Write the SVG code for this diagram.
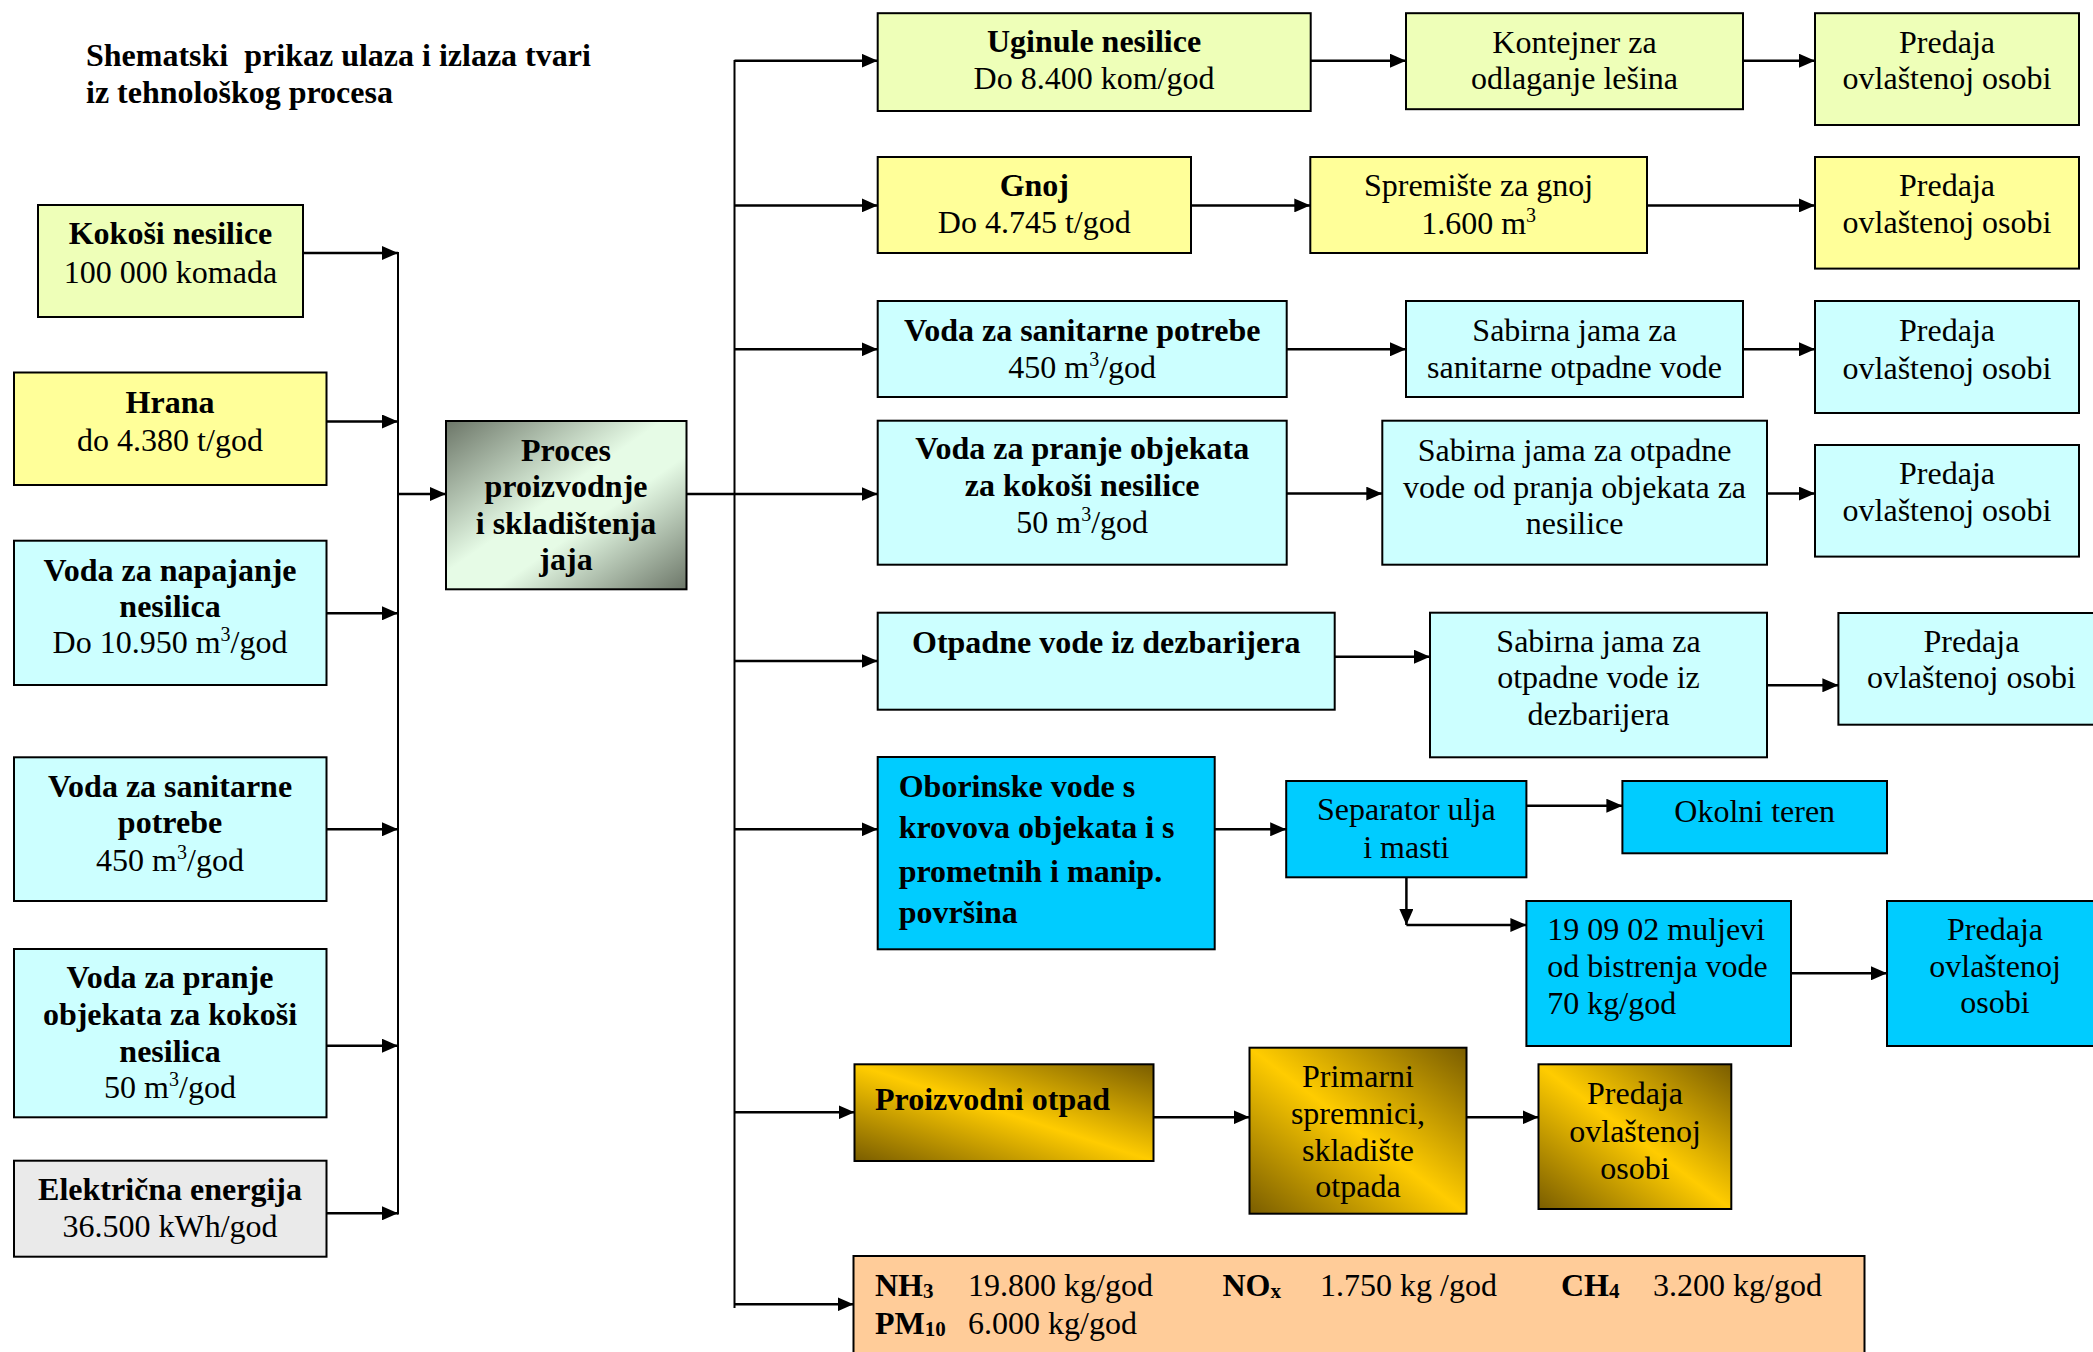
<svg xmlns="http://www.w3.org/2000/svg" width="2093" height="1352" viewBox="0 0 2093 1352">
<style>
text{font-family:"Liberation Serif","Times New Roman",serif;font-size:32px;fill:#000}
.c{text-anchor:middle}
.b{font-weight:bold}
.box{stroke:#000;stroke-width:2}
.ln{stroke:#000;stroke-width:2.5;fill:none}
.bus{stroke:#000;stroke-width:2;fill:none}
.sub{font-size:21px}
.sup{font-size:20px}
</style>
<defs>
<marker id="ah" markerUnits="userSpaceOnUse" markerWidth="16" markerHeight="14" refX="16" refY="7" orient="auto">
<path d="M0,0 L16,7 L0,14 z" fill="#000"/>
</marker>
<linearGradient id="gp" x1="0" y1="0" x2="1" y2="1">
<stop offset="0" stop-color="#6c7668"/>
<stop offset="0.45" stop-color="#e6fbe6"/>
<stop offset="0.6" stop-color="#e6fbe6"/>
<stop offset="1" stop-color="#6c7668"/>
</linearGradient>
<linearGradient id="gg" x1="0" y1="1" x2="1" y2="0">
<stop offset="0" stop-color="#7a5d00"/>
<stop offset="0.5" stop-color="#ffcc00"/>
<stop offset="1" stop-color="#7a5d00"/>
</linearGradient>
</defs>
<rect width="2093" height="1352" fill="#fff"/>

<g id="title">
<text class="b" x="86" y="66">Shematski&#160; prikaz ulaza i izlaza tvari</text>
<text class="b" x="86" y="103">iz tehnološkog procesa</text>
</g>

<g id="connectors">
<line class="ln" x1="303" y1="253" x2="398" y2="253" marker-end="url(#ah)"/>
<line class="ln" x1="326" y1="421.5" x2="398" y2="421.5" marker-end="url(#ah)"/>
<line class="ln" x1="326" y1="613.3" x2="398" y2="613.3" marker-end="url(#ah)"/>
<line class="ln" x1="326" y1="829.3" x2="398" y2="829.3" marker-end="url(#ah)"/>
<line class="ln" x1="326" y1="1045.7" x2="398" y2="1045.7" marker-end="url(#ah)"/>
<line class="ln" x1="326" y1="1213.3" x2="398" y2="1213.3" marker-end="url(#ah)"/>
<line class="bus" x1="398" y1="252" x2="398" y2="1214.5"/>
<line class="ln" x1="398" y1="494" x2="446" y2="494" marker-end="url(#ah)"/>
<line class="ln" x1="686.5" y1="494" x2="877.7" y2="494" marker-end="url(#ah)"/>
<line class="bus" x1="734.5" y1="60" x2="734.5" y2="1308"/>
<line class="ln" x1="734.5" y1="60.7" x2="877.7" y2="60.7" marker-end="url(#ah)"/>
<line class="ln" x1="734.5" y1="205.4" x2="877.7" y2="205.4" marker-end="url(#ah)"/>
<line class="ln" x1="734.5" y1="349.3" x2="877.7" y2="349.3" marker-end="url(#ah)"/>
<line class="ln" x1="734.5" y1="661" x2="877.7" y2="661" marker-end="url(#ah)"/>
<line class="ln" x1="734.5" y1="829.3" x2="877.7" y2="829.3" marker-end="url(#ah)"/>
<line class="ln" x1="734.5" y1="1112.3" x2="854.5" y2="1112.3" marker-end="url(#ah)"/>
<line class="ln" x1="734.5" y1="1304.3" x2="853.5" y2="1304.3" marker-end="url(#ah)"/>
<line class="ln" x1="1310.7" y1="60.7" x2="1406" y2="60.7" marker-end="url(#ah)"/>
<line class="ln" x1="1743" y1="60.7" x2="1815" y2="60.7" marker-end="url(#ah)"/>
<line class="ln" x1="1191" y1="205.4" x2="1310.3" y2="205.4" marker-end="url(#ah)"/>
<line class="ln" x1="1647" y1="205.4" x2="1815" y2="205.4" marker-end="url(#ah)"/>
<line class="ln" x1="1286.6" y1="349.3" x2="1406" y2="349.3" marker-end="url(#ah)"/>
<line class="ln" x1="1743" y1="349.3" x2="1815" y2="349.3" marker-end="url(#ah)"/>
<line class="ln" x1="1286.6" y1="493.6" x2="1382.3" y2="493.6" marker-end="url(#ah)"/>
<line class="ln" x1="1767" y1="493.6" x2="1815" y2="493.6" marker-end="url(#ah)"/>
<line class="ln" x1="1334.8" y1="656.7" x2="1430" y2="656.7" marker-end="url(#ah)"/>
<line class="ln" x1="1767" y1="685.3" x2="1838.4" y2="685.3" marker-end="url(#ah)"/>
<line class="ln" x1="1214.7" y1="829.3" x2="1286.2" y2="829.3" marker-end="url(#ah)"/>
<line class="ln" x1="1526.4" y1="805.7" x2="1622.4" y2="805.7" marker-end="url(#ah)"/>
<line class="ln" x1="1406.4" y1="877.3" x2="1406.4" y2="925" marker-end="url(#ah)"/>
<line class="ln" x1="1406.4" y1="925" x2="1526.4" y2="925" marker-end="url(#ah)"/>
<line class="ln" x1="1791" y1="973.3" x2="1887" y2="973.3" marker-end="url(#ah)"/>
<line class="ln" x1="1153.5" y1="1117.3" x2="1249.5" y2="1117.3" marker-end="url(#ah)"/>
<line class="ln" x1="1466.5" y1="1117.3" x2="1538.5" y2="1117.3" marker-end="url(#ah)"/>
</g>

<g id="kokosi">
<rect class="box" x="38" y="205" width="265" height="112" fill="#eeffb8"/>
<text class="c b" x="170.5" y="244">Kokoši nesilice</text>
<text class="c" x="170.5" y="282.5">100 000 komada</text>
</g>
<g id="hrana">
<rect class="box" x="14" y="372.5" width="312.5" height="112.5" fill="#ffff99"/>
<text class="c b" x="170" y="412.5">Hrana</text>
<text class="c" x="170" y="450.7">do 4.380 t/god</text>
</g>
<g id="voda-napajanje">
<rect class="box" x="14" y="540.7" width="312.5" height="144.3" fill="#ccffff"/>
<text class="c b" x="170" y="581">Voda za napajanje</text>
<text class="c b" x="170" y="617">nesilica</text>
<text class="c" x="170" y="653.3">Do 10.950 m<tspan class="sup" dy="-12">3</tspan><tspan dy="12">/god</tspan></text>
</g>
<g id="voda-sanitarne-ulaz">
<rect class="box" x="14" y="757.3" width="312.5" height="143.7" fill="#ccffff"/>
<text class="c b" x="170" y="796.7">Voda za sanitarne</text>
<text class="c b" x="170" y="833.3">potrebe</text>
<text class="c" x="170" y="870.7">450 m<tspan class="sup" dy="-12">3</tspan><tspan dy="12">/god</tspan></text>
</g>
<g id="voda-pranje-ulaz">
<rect class="box" x="14" y="949" width="312.5" height="168.3" fill="#ccffff"/>
<text class="c b" x="170" y="988.3">Voda za pranje</text>
<text class="c b" x="170" y="1025">objekata za kokoši</text>
<text class="c b" x="170" y="1061.7">nesilica</text>
<text class="c" x="170" y="1098.3">50 m<tspan class="sup" dy="-12">3</tspan><tspan dy="12">/god</tspan></text>
</g>
<g id="elektricna">
<rect class="box" x="14" y="1160.7" width="312.5" height="96" fill="#eaeaea"/>
<text class="c b" x="170" y="1200">Električna energija</text>
<text class="c" x="170" y="1237.3">36.500 kWh/god</text>
</g>
<g id="proces">
<rect class="box" x="446" y="421" width="240.5" height="168.3" fill="url(#gp)"/>
<text class="c b" x="566" y="461">Proces</text>
<text class="c b" x="566" y="497.3">proizvodnje</text>
<text class="c b" x="566" y="534.3">i skladištenja</text>
<text class="c b" x="566" y="570">jaja</text>
</g>

<g id="uginule">
<rect class="box" x="877.7" y="13.2" width="433" height="97.8" fill="#eeffb8"/>
<text class="c b" x="1094" y="51.8">Uginule nesilice</text>
<text class="c" x="1094" y="89.3">Do 8.400 kom/god</text>
</g>
<g id="kontejner">
<rect class="box" x="1406" y="13.2" width="337" height="96" fill="#eeffb8"/>
<text class="c" x="1574.5" y="52.9">Kontejner za</text>
<text class="c" x="1574.5" y="89.3">odlaganje lešina</text>
</g>
<g id="predaja-1">
<rect class="box" x="1815" y="13.2" width="264" height="111.8" fill="#eeffb8"/>
<text class="c" x="1947" y="52.9">Predaja</text>
<text class="c" x="1947" y="88.6">ovlaštenoj osobi</text>
</g>
<g id="gnoj">
<rect class="box" x="877.7" y="157" width="313.3" height="96" fill="#ffff99"/>
<text class="c b" x="1034.3" y="196.4">Gnoj</text>
<text class="c" x="1034.3" y="232.9">Do 4.745 t/god</text>
</g>
<g id="spremiste">
<rect class="box" x="1310.3" y="157" width="336.7" height="96" fill="#ffff99"/>
<text class="c" x="1478.6" y="196.4">Spremište za gnoj</text>
<text class="c" x="1478.6" y="234">1.600 m<tspan class="sup" dy="-12">3</tspan></text>
</g>
<g id="predaja-2">
<rect class="box" x="1815" y="157" width="264" height="111.6" fill="#ffff99"/>
<text class="c" x="1947" y="196.4">Predaja</text>
<text class="c" x="1947" y="232.9">ovlaštenoj osobi</text>
</g>
<g id="voda-sanitarne-izlaz">
<rect class="box" x="877.7" y="301" width="409" height="96" fill="#ccffff"/>
<text class="c b" x="1082.2" y="341">Voda za sanitarne potrebe</text>
<text class="c" x="1082.2" y="378">450 m<tspan class="sup" dy="-12">3</tspan><tspan dy="12">/god</tspan></text>
</g>
<g id="sabirna-sanitarne">
<rect class="box" x="1406" y="301" width="337" height="96" fill="#ccffff"/>
<text class="c" x="1574.5" y="341">Sabirna jama za</text>
<text class="c" x="1574.5" y="378">sanitarne otpadne vode</text>
</g>
<g id="predaja-3">
<rect class="box" x="1815" y="301" width="264" height="112" fill="#ccffff"/>
<text class="c" x="1947" y="341">Predaja</text>
<text class="c" x="1947" y="378.6">ovlaštenoj osobi</text>
</g>
<g id="voda-pranje-izlaz">
<rect class="box" x="877.7" y="420.7" width="409" height="144" fill="#ccffff"/>
<text class="c b" x="1082.2" y="459">Voda za pranje objekata</text>
<text class="c b" x="1082.2" y="496.4">za kokoši nesilice</text>
<text class="c" x="1082.2" y="533">50 m<tspan class="sup" dy="-12">3</tspan><tspan dy="12">/god</tspan></text>
</g>
<g id="sabirna-pranje">
<rect class="box" x="1382.3" y="420.7" width="384.7" height="144" fill="#ccffff"/>
<text class="c" x="1574.6" y="460.7">Sabirna jama za otpadne</text>
<text class="c" x="1574.6" y="498.2">vode od pranja objekata za</text>
<text class="c" x="1574.6" y="534">nesilice</text>
</g>
<g id="predaja-4">
<rect class="box" x="1815" y="445" width="264" height="111.6" fill="#ccffff"/>
<text class="c" x="1947" y="484">Predaja</text>
<text class="c" x="1947" y="520.7">ovlaštenoj osobi</text>
</g>
<g id="otpadne-dezbarijera">
<rect class="box" x="877.7" y="612.7" width="457" height="97" fill="#ccffff"/>
<text class="c b" x="1106.2" y="652.7">Otpadne vode iz dezbarijera</text>
</g>
<g id="sabirna-dezbarijera">
<rect class="box" x="1430" y="612.7" width="337" height="144.6" fill="#ccffff"/>
<text class="c" x="1598.5" y="651.7">Sabirna jama za</text>
<text class="c" x="1598.5" y="688.3">otpadne vode iz</text>
<text class="c" x="1598.5" y="725">dezbarijera</text>
</g>
<g id="predaja-5">
<rect class="box" x="1838.4" y="613" width="266" height="111.7" fill="#ccffff"/>
<text class="c" x="1971.4" y="651.7">Predaja</text>
<text class="c" x="1971.4" y="688.3">ovlaštenoj osobi</text>
</g>
<g id="oborinske">
<rect class="box" x="877.7" y="757" width="337" height="192.3" fill="#00ccff"/>
<text class="b" x="898.7" y="796.7">Oborinske vode s</text>
<text class="b" x="898.7" y="838.3">krovova objekata i s</text>
<text class="b" x="898.7" y="881.7">prometnih i manip.</text>
<text class="b" x="898.7" y="923.3">površina</text>
</g>
<g id="separator">
<rect class="box" x="1286.2" y="781" width="240.2" height="96.3" fill="#00ccff"/>
<text class="c" x="1406.3" y="820">Separator ulja</text>
<text class="c" x="1406.3" y="857.7">i masti</text>
</g>
<g id="okolni-teren">
<rect class="box" x="1622.4" y="781" width="264.6" height="72.3" fill="#00ccff"/>
<text class="c" x="1754.7" y="821.7">Okolni teren</text>
</g>
<g id="muljevi">
<rect class="box" x="1526.4" y="901" width="264.6" height="145" fill="#00ccff"/>
<text x="1547.3" y="940">19 09 02 muljevi</text>
<text x="1547.3" y="976.7">od bistrenja vode</text>
<text x="1547.3" y="1014">70 kg/god</text>
</g>
<g id="predaja-6">
<rect class="box" x="1887" y="901" width="216" height="145" fill="#00ccff"/>
<text class="c" x="1995" y="940">Predaja</text>
<text class="c" x="1995" y="976.7">ovlaštenoj</text>
<text class="c" x="1995" y="1013.3">osobi</text>
</g>
<g id="proizvodni-otpad">
<rect class="box" x="854.5" y="1064.3" width="299" height="96.7" fill="url(#gg)"/>
<text class="b" x="875" y="1110">Proizvodni otpad</text>
</g>
<g id="primarni">
<rect class="box" x="1249.5" y="1047.7" width="217" height="166" fill="url(#gg)"/>
<text class="c" x="1358" y="1087.3">Primarni</text>
<text class="c" x="1358" y="1124">spremnici,</text>
<text class="c" x="1358" y="1160.7">skladište</text>
<text class="c" x="1358" y="1197.3">otpada</text>
</g>
<g id="predaja-7">
<rect class="box" x="1538.5" y="1064.3" width="192.8" height="144.7" fill="url(#gg)"/>
<text class="c" x="1635" y="1104.3">Predaja</text>
<text class="c" x="1635" y="1141.7">ovlaštenoj</text>
<text class="c" x="1635" y="1179">osobi</text>
</g>
<g id="emisije">
<rect class="box" x="853.5" y="1256" width="1011" height="120" fill="#ffcc99"/>
<text class="b" x="875" y="1296">NH<tspan class="sub" dy="2">3</tspan></text>
<text x="968" y="1296">19.800 kg/god</text>
<text class="b" x="1222.5" y="1296">NO<tspan class="sub" dy="2">x</tspan></text>
<text x="1320" y="1296">1.750 kg /god</text>
<text class="b" x="1561" y="1296">CH<tspan class="sub" dy="2">4</tspan></text>
<text x="1653" y="1296">3.200 kg/god</text>
<text class="b" x="875" y="1334">PM<tspan class="sub" dy="2">10</tspan></text>
<text x="968" y="1334">6.000 kg/god</text>
</g>
</svg>
